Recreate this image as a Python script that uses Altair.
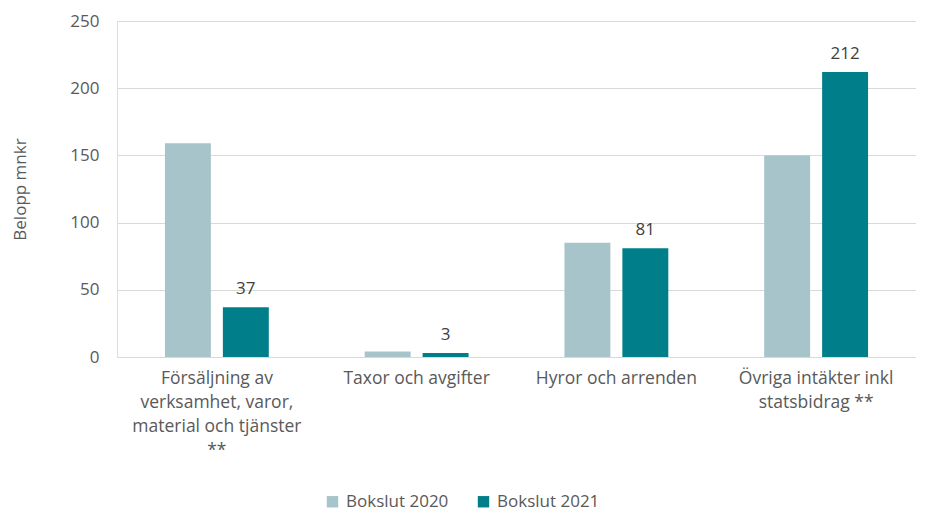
import altair as alt
import pandas as pd

categories = [
    "Försäljning av|verksamhet, varor,|material och tjänster|**",
    "Taxor och avgifter",
    "Hyror och arrenden",
    "Övriga intäkter inkl|statsbidrag **",
]
series = ["Bokslut 2020", "Bokslut 2021"]
values_2020 = [159, 4, 85, 150]
values_2021 = [37, 3, 81, 212]

rows = []
for c, v in zip(categories, values_2020):
    rows.append({"kategori": c, "serie": series[0], "belopp": v, "etikett": ""})
for c, v in zip(categories, values_2021):
    rows.append({"kategori": c, "serie": series[1], "belopp": v, "etikett": str(v)})
df = pd.DataFrame(rows)

FONT = "Open Sans"
GRAY = "#595959"

x = alt.X(
    "kategori:N",
    sort=categories,
    scale=alt.Scale(paddingInner=0.48, paddingOuter=0.24),
    axis=alt.Axis(
        title=None,
        labelAngle=0,
        labelExpr="split(datum.label, '|')",
        labelFont=FONT,
        labelFontSize=17.5,
        labelColor=GRAY,
        labelPadding=12,
        labelLineHeight=24,
        labelBaseline="top",
        ticks=False,
        domain=False,
        labelLimit=300,
    ),
)
xoff = alt.XOffset("serie:N", sort=series, scale=alt.Scale(paddingInner=0.207, paddingOuter=0))
y = alt.Y(
    "belopp:Q",
    scale=alt.Scale(domain=[0, 250]),
    axis=alt.Axis(
        title="Belopp mnkr",
        values=[0, 50, 100, 150, 200, 250],
        titleFont=FONT,
        titleFontSize=17,
        titleFontWeight="normal",
        titleColor=GRAY,
        titleX=-97,
        titleBaseline="middle",
        labelFont=FONT,
        labelFontSize=17,
        labelColor=GRAY,
        labelPadding=18,
        ticks=False,
        domain=False,
        gridColor="#D9D9D9",
        gridWidth=1,
    ),
)

bars = alt.Chart(df).mark_bar().encode(
    x=x,
    xOffset=xoff,
    y=y,
    color=alt.Color(
        "serie:N",
        sort=series,
        scale=alt.Scale(domain=series, range=["#A7C4CA", "#007F8A"]),
        legend=alt.Legend(
            title=None,
            orient="none",
            direction="horizontal",
            legendX=207,
            legendY=472,
            symbolType="square",
            symbolSize=130,
            symbolStrokeWidth=0,
            labelFont=FONT,
            labelFontSize=17,
            labelColor=GRAY,
            columnPadding=26,
            labelOffset=5,
        ),
    ),
)

labels = alt.Chart(df).mark_text(
    font=FONT, fontSize=17, color="#404040", baseline="bottom", dy=-9
).encode(
    x=x,
    xOffset=xoff,
    y=y,
    text="etikett:N",
)

chart = (
    alt.layer(bars, labels)
    .properties(
        width=799,
        height=336,
        autosize=alt.AutoSizeParams(type="none"),
        padding={"left": 109, "top": 13, "right": 0, "bottom": 156},
    )
    .configure_view(stroke=None)
    .configure(background="white")
)

chart.save("out.html", embed_options={"renderer": "svg", "actions": False})
